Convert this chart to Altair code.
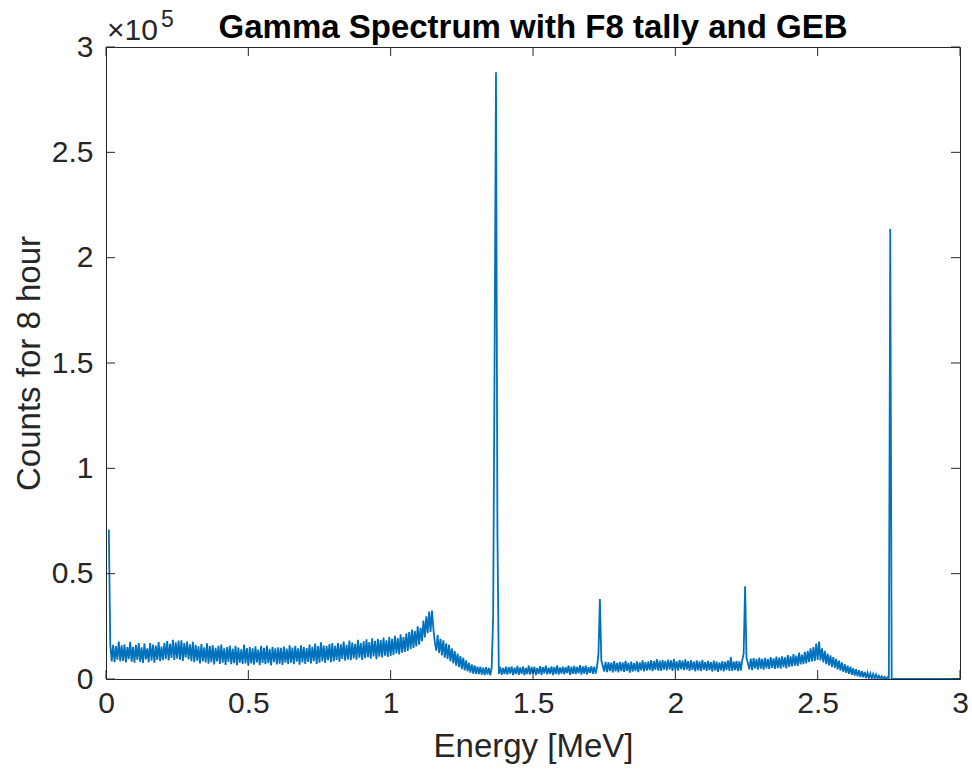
import altair as alt
import pandas as pd

# Counts in thousands, energy grid starts at 0.01 MeV with 0.005 MeV spacing
counts_k = [
    71.0, 16.5, 8.4, 16.2, 8.0, 15.6, 9.2, 17.8, 8.3, 16.0,       # 0.01
    8.6, 16.4, 7.9, 15.1, 9.4, 17.6, 8.2, 15.3, 7.7, 16.2,        # 0.06
    9.0, 17.1, 8.1, 15.0, 7.6, 16.8, 9.3, 14.6, 8.0, 17.0,        # 0.11
    8.7, 16.3, 7.8, 15.9, 9.1, 17.5, 8.5, 15.4, 8.9, 17.2,        # 0.16
    9.5, 18.0, 8.8, 16.7, 10.0, 18.6, 9.0, 17.4, 9.6, 18.2,       # 0.21
    9.2, 18.4, 8.6, 17.0, 10.3, 17.8, 9.3, 16.5, 8.5, 17.6,       # 0.26
    8.0, 16.2, 8.7, 15.5, 7.4, 16.6, 8.3, 15.0, 7.9, 16.9,        # 0.31
    7.3, 15.6, 8.0, 16.0, 6.9, 14.8, 8.4, 15.7, 7.2, 16.3,        # 0.36
    7.7, 14.6, 6.7, 15.2, 8.1, 15.9, 7.0, 14.4, 7.5, 15.7,        # 0.41
    6.5, 14.9, 7.8, 14.1, 7.1, 16.3, 7.4, 14.7, 6.3, 15.1,        # 0.46
    7.4, 14.5, 6.8, 15.5, 7.9, 14.0, 6.6, 15.8, 7.6, 14.8,        # 0.51
    7.0, 15.9, 7.5, 14.3, 6.4, 15.3, 8.0, 14.6, 6.9, 15.0,        # 0.56
    7.3, 14.8, 6.7, 15.4, 7.8, 14.4, 7.1, 16.0, 7.7, 14.9,        # 0.61
    7.0, 15.7, 8.2, 14.5, 6.8, 16.0, 7.9, 15.2, 7.2, 14.7,        # 0.66
    8.1, 16.4, 7.4, 15.3, 8.5, 16.8, 7.2, 15.6, 7.8, 17.4,        # 0.71
    8.4, 15.9, 7.6, 15.7, 8.9, 16.6, 8.0, 17.0, 8.3, 15.8,        # 0.76
    9.1, 17.1, 8.2, 16.5, 9.5, 17.8, 8.7, 16.2, 9.3, 18.2,        # 0.81
    8.9, 17.3, 9.8, 16.7, 9.2, 18.6, 10.1, 17.0, 9.0, 17.9,       # 0.86
    9.9, 18.8, 10.3, 17.5, 9.6, 19.3, 10.7, 18.1, 9.4, 18.9,      # 0.91
    10.6, 18.5, 10.2, 19.7, 11.1, 18.3, 10.5, 20.0, 10.9, 19.1,   # 0.96
    11.4, 20.5, 12.1, 19.4, 11.7, 21.2, 12.5, 19.9, 12.9, 21.7,   # 1.01
    13.3, 22.3, 14.1, 23.5, 14.8, 22.8, 15.5, 25.0, 16.3, 24.3,   # 1.06
    17.9, 27.7, 19.7, 29.8, 21.8, 32.0, 22.3, 32.5, 24.0, 17.5,   # 1.11
    13.5, 20.9, 12.4, 19.1, 11.2, 18.3, 10.1, 16.9, 9.5, 16.2,    # 1.16
    8.3, 14.5, 7.4, 13.3, 6.3, 12.1, 5.6, 10.9, 4.7, 10.0,        # 1.21
    4.1, 8.9, 3.6, 7.6, 3.0, 6.9, 2.6, 6.5, 2.4, 5.9,             # 1.26
    2.3, 5.8, 2.1, 5.4, 1.9, 5.6, 2.2, 5.2, 1.8, 5.5,             # 1.31
    30.0, 150.0, 288.0, 70.0, 2.4, 5.7, 2.0, 5.3, 2.3, 5.8,       # 1.36
    2.1, 5.6, 2.6, 6.0, 1.9, 5.4, 2.4, 6.2, 2.0, 5.5,             # 1.41
    2.5, 5.9, 1.8, 5.2, 2.3, 6.4, 2.1, 5.7, 2.6, 5.8,             # 1.46
    1.9, 5.3, 2.4, 6.1, 2.0, 5.6, 2.7, 6.3, 2.2, 5.4,             # 1.51
    2.5, 6.0, 1.9, 5.7, 2.3, 6.5, 2.1, 5.5, 2.6, 5.9,             # 1.56
    2.2, 5.6, 2.8, 6.4, 2.0, 5.8, 2.5, 6.2, 2.3, 5.7,             # 1.61
    2.7, 6.6, 2.1, 6.0, 2.6, 6.3, 2.2, 5.6, 2.9, 6.1,             # 1.66
    2.4, 5.9, 2.6, 5.8, 12.0, 38.0, 9.0, 6.3, 3.6, 8.1,           # 1.71
    3.3, 8.0, 3.8, 7.8, 3.1, 8.5, 3.6, 7.6, 3.2, 8.1,             # 1.76
    3.7, 7.9, 3.4, 8.6, 3.9, 7.7, 3.0, 8.2, 3.5, 7.5,             # 1.81
    3.8, 8.4, 3.3, 7.9, 4.1, 8.8, 3.6, 8.0, 4.0, 8.3,             # 1.86
    4.2, 8.9, 3.7, 8.5, 4.4, 9.4, 4.0, 8.7, 3.9, 9.0,             # 1.91
    4.5, 8.6, 4.1, 9.2, 4.6, 8.8, 3.9, 9.5, 4.3, 8.4,             # 1.96
    4.0, 9.1, 4.7, 8.7, 4.2, 9.3, 4.5, 8.5, 3.8, 8.9,             # 2.01
    4.3, 8.2, 3.6, 8.8, 4.1, 8.4, 3.7, 9.0, 4.4, 8.1,             # 2.06
    3.9, 8.6, 4.2, 8.0, 3.5, 8.7, 4.0, 8.3, 3.4, 7.9,             # 2.11
    4.1, 8.5, 3.6, 8.2, 4.3, 8.8, 3.8, 10.4, 3.9, 8.3,            # 2.16
    4.2, 8.6, 3.7, 8.4, 4.0, 8.9, 12.0, 44.0, 10.0, 7.5,          # 2.21
    4.6, 9.7, 4.2, 9.9, 5.0, 9.4, 4.5, 10.2, 4.9, 9.6,            # 2.26
    4.4, 10.0, 5.1, 9.5, 4.7, 10.4, 5.3, 9.8, 4.8, 10.6,          # 2.31
    5.2, 10.1, 4.9, 10.8, 5.6, 10.3, 5.0, 11.4, 5.8, 10.7,        # 2.36
    6.0, 11.8, 6.4, 11.1, 6.2, 12.5, 6.9, 11.6, 7.1, 12.9,        # 2.41
    7.4, 13.3, 8.0, 14.5, 8.3, 15.2, 8.6, 16.8, 9.1, 17.8,        # 2.46
    8.8, 14.6, 7.9, 13.4, 7.1, 12.0, 6.5, 11.2, 5.8, 10.4,        # 2.51
    5.3, 9.5, 4.6, 8.7, 4.0, 7.9, 3.4, 7.1, 2.9, 6.3,             # 2.56
    2.5, 5.8, 2.0, 5.1, 1.6, 4.7, 1.3, 4.2, 0.9, 3.8,             # 2.61
    0.8, 3.4, 0.5, 3.0, 0.4, 2.6, 0.2, 2.4, 0.2, 2.1,             # 2.66
    0.1, 1.6, 0.1, 1.3, 0.0, 1.0, 0.0, 0.8, 0.3, 213.6,           # 2.71
    0, 0, 0, 0, 0, 0, 0, 0, 0, 0,                                 # 2.76
    0, 0, 0, 0, 0, 0, 0, 0, 0, 0,                                 # 2.81
    0, 0, 0, 0, 0, 0, 0, 0, 0, 0,                                 # 2.86
    0, 0, 0, 0, 0, 0, 0, 0, 0, 0,                                 # 2.91
    0, 0, 0, 0, 0, 0, 0, 0, 0,                                    # 2.96
]

x_ticks = [0, 0.5, 1, 1.5, 2, 2.5, 3]
y_ticks = [0, 0.5, 1, 1.5, 2, 2.5, 3]
title_text = "Gamma Spectrum with F8 tally and GEB"
x_title = "Energy [MeV]"
y_title = "Counts for 8 hour"

energy = [round(0.01 + 0.005 * i, 3) for i in range(len(counts_k))]
df = pd.DataFrame({"E": energy, "C": [c / 100.0 for c in counts_k]})
xt = pd.DataFrame({"t": x_ticks})
yt = pd.DataFrame({"t": y_ticks})

FONT = "Liberation Sans"
AX = "#262626"
W, H, TL = 854, 632, 9
xs = alt.Scale(domain=[0, 3], nice=False, zero=False)
ys = alt.Scale(domain=[0, 3], nice=False)

line = alt.Chart(df).mark_line(color="#0072BD", strokeWidth=1.8, clip=True).encode(
    x=alt.X("E:Q", scale=xs, axis=alt.Axis(
        orient="bottom", values=x_ticks, format="~g", title=x_title, ticks=False, tickSize=0,
        domain=False, grid=False, labelFontSize=30, labelFont=FONT, labelColor=AX,
        labelPadding=9, labelFlush=False, labelOverlap=False,
        titleFontSize=33, titleFont=FONT, titleColor=AX, titleFontWeight="normal",
        titleBaseline="alphabetic", titleY=77)),
    y=alt.Y("C:Q", scale=ys, axis=alt.Axis(
        orient="left", values=y_ticks, format="~g", title=y_title, ticks=False, tickSize=0,
        domain=False, grid=False, labelFontSize=30, labelFont=FONT, labelColor=AX,
        labelPadding=13, labelFlush=False, labelOverlap=False,
        titleFontSize=33, titleFont=FONT, titleColor=AX, titleFontWeight="normal",
        titleBaseline="alphabetic", titleX=-67, titleAngle=-90)),
)

tick_bottom = alt.Chart(xt).mark_rule(color=AX, strokeWidth=1).encode(
    x=alt.X("t:Q", scale=xs, axis=None), y=alt.value(H), y2=alt.value(H - TL))
tick_top = alt.Chart(xt).mark_rule(color=AX, strokeWidth=1).encode(
    x=alt.X("t:Q", scale=xs, axis=None), y=alt.value(0), y2=alt.value(TL))
tick_left = alt.Chart(yt).mark_rule(color=AX, strokeWidth=1).encode(
    y=alt.Y("t:Q", scale=ys, axis=None), x=alt.value(0), x2=alt.value(TL))
tick_right = alt.Chart(yt).mark_rule(color=AX, strokeWidth=1).encode(
    y=alt.Y("t:Q", scale=ys, axis=None), x=alt.value(W), x2=alt.value(W - TL))

title = alt.Chart(pd.DataFrame({"t": [title_text]})).mark_text(
    font=FONT, fontSize=33, fontWeight="bold", color="#000000",
    align="center", baseline="alphabetic").encode(
    text="t:N", x=alt.value(W / 2), y=alt.value(-9))

mult = alt.Chart(pd.DataFrame({"t": ["\u00d710"]})).mark_text(
    font=FONT, fontSize=30, color=AX, align="left", baseline="alphabetic").encode(
    text="t:N", x=alt.value(1), y=alt.value(-7))

expo = alt.Chart(pd.DataFrame({"t": ["5"]})).mark_text(
    font=FONT, fontSize=23, color=AX, align="left", baseline="alphabetic").encode(
    text="t:N", x=alt.value(55), y=alt.value(-20))

chart = alt.layer(
    line, tick_bottom, tick_top, tick_left, tick_right, title, mult, expo
).resolve_axis(
    x="independent", y="independent"
).properties(
    width=W, height=H,
    autosize=alt.AutoSizeParams(type="none"),
    padding={"left": 106, "top": 47, "right": 12, "bottom": 93},
    background="white",
).configure_view(stroke=AX, strokeWidth=1)

chart.save("out.html", embed_options={"renderer": "svg", "actions": False})
